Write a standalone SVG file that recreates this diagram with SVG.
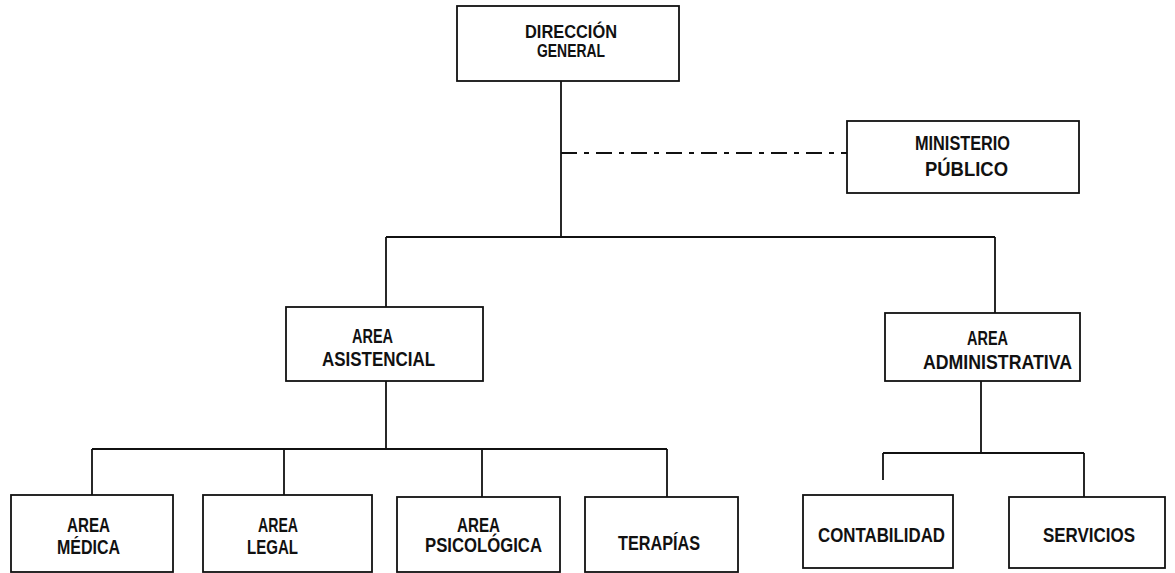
<svg xmlns="http://www.w3.org/2000/svg" width="1175" height="573" viewBox="0 0 1175 573">
<style>
.box{fill:none;stroke:#111;stroke-width:1.8}
.ln{fill:none;stroke:#111;stroke-width:1.8}
.dash{fill:none;stroke:#111;stroke-width:1.8;stroke-dasharray:16 7 5 7}
text{font-family:"Liberation Sans",Arial,sans-serif;fill:#111;font-size:20px;font-weight:bold}
.s{font-size:19px}
</style>
<rect width="1175" height="573" fill="#fff"/>
<g id="connectors">
<line class="ln" x1="561" y1="81" x2="561" y2="237"/>
<line class="dash" x1="561" y1="153" x2="847" y2="153"/>
<line class="ln" x1="386" y1="237" x2="995" y2="237"/>
<line class="ln" x1="386" y1="237" x2="386" y2="307"/>
<line class="ln" x1="995" y1="237" x2="995" y2="313"/>
<line class="ln" x1="386" y1="381" x2="386" y2="449"/>
<line class="ln" x1="92" y1="449" x2="667" y2="449"/>
<line class="ln" x1="92" y1="449" x2="92" y2="495"/>
<line class="ln" x1="284" y1="449" x2="284" y2="495"/>
<line class="ln" x1="482" y1="449" x2="482" y2="497"/>
<line class="ln" x1="667" y1="449" x2="667" y2="497"/>
<line class="ln" x1="981" y1="381" x2="981" y2="453"/>
<line class="ln" x1="883" y1="453" x2="1084" y2="453"/>
<line class="ln" x1="883" y1="453" x2="883" y2="480"/>
<line class="ln" x1="1084" y1="453" x2="1084" y2="497"/>
</g>
<g id="direccion">
<rect class="box" x="457" y="6" width="222" height="75"/>
<text class="s" x="525" y="38" textLength="92" lengthAdjust="spacingAndGlyphs">DIRECCIÓN</text>
<text class="s" x="537" y="57" textLength="68" lengthAdjust="spacingAndGlyphs">GENERAL</text>
</g>
<g id="ministerio">
<rect class="box" x="847" y="121" width="232" height="72"/>
<text x="915" y="150" textLength="95" lengthAdjust="spacingAndGlyphs">MINISTERIO</text>
<text x="925" y="176" textLength="83" lengthAdjust="spacingAndGlyphs">PÚBLICO</text>
</g>
<g id="asistencial">
<rect class="box" x="286" y="307" width="197" height="74"/>
<text x="352" y="343" textLength="41" lengthAdjust="spacingAndGlyphs">AREA</text>
<text x="322" y="366" textLength="113" lengthAdjust="spacingAndGlyphs">ASISTENCIAL</text>
</g>
<g id="administrativa">
<rect class="box" x="885" y="313" width="195" height="68"/>
<text x="967" y="345" textLength="41" lengthAdjust="spacingAndGlyphs">AREA</text>
<text x="923" y="369" textLength="149" lengthAdjust="spacingAndGlyphs">ADMINISTRATIVA</text>
</g>
<g id="medica">
<rect class="box" x="11" y="495" width="162" height="77"/>
<text x="67" y="532" textLength="43" lengthAdjust="spacingAndGlyphs">AREA</text>
<text x="57" y="554" textLength="63" lengthAdjust="spacingAndGlyphs">MÉDICA</text>
</g>
<g id="legal">
<rect class="box" x="203" y="495" width="169" height="77"/>
<text x="258" y="532" textLength="40" lengthAdjust="spacingAndGlyphs">AREA</text>
<text x="247" y="554" textLength="51" lengthAdjust="spacingAndGlyphs">LEGAL</text>
</g>
<g id="psicologica">
<rect class="box" x="397" y="497" width="163" height="75"/>
<text x="457" y="532" textLength="43" lengthAdjust="spacingAndGlyphs">AREA</text>
<text x="425" y="552" textLength="117" lengthAdjust="spacingAndGlyphs">PSICOLÓGICA</text>
</g>
<g id="terapias">
<rect class="box" x="585" y="497" width="153" height="75"/>
<text x="618" y="550" textLength="82" lengthAdjust="spacingAndGlyphs">TERAPÍAS</text>
</g>
<g id="contabilidad">
<rect class="box" x="803" y="495" width="150" height="73"/>
<text x="818" y="542" textLength="127" lengthAdjust="spacingAndGlyphs">CONTABILIDAD</text>
</g>
<g id="servicios">
<rect class="box" x="1009" y="497" width="156" height="71"/>
<text x="1043" y="542" textLength="92" lengthAdjust="spacingAndGlyphs">SERVICIOS</text>
</g>
</svg>
